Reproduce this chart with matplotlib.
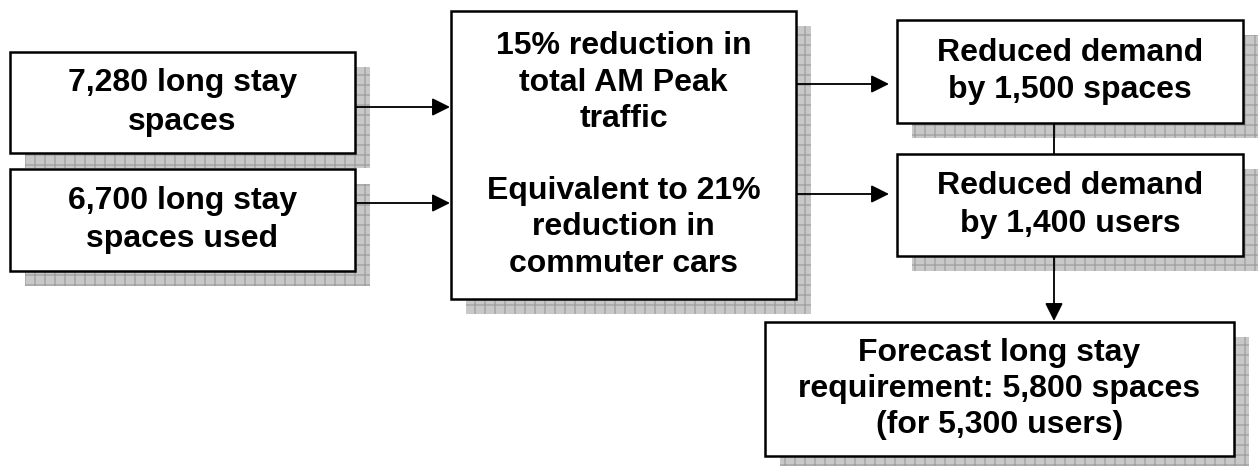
import matplotlib
matplotlib.use("Agg")
import matplotlib.pyplot as plt
from matplotlib.patches import Rectangle

plt.rcParams['font.family'] = ['Liberation Sans', 'DejaVu Sans']
plt.rcParams['hatch.linewidth'] = 0.8

# box texts
labels = [
    "7,280 long stay\nspaces",
    "6,700 long stay\nspaces used",
    "15% reduction in\ntotal AM Peak\ntraffic\n\nEquivalent to 21%\nreduction in\ncommuter cars",
    "Reduced demand\nby 1,500 spaces",
    "Reduced demand\nby 1,400 users",
    "Forecast long stay\nrequirement: 5,800 spaces\n(for 5,300 users)",
]

# box corners in pixels (left, top, right, bottom)
boxes = [
    (10, 52, 355, 153),
    (10, 169, 355, 271),
    (451, 11, 796, 299),
    (897, 20, 1243, 123),
    (897, 154, 1243, 256),
    (765, 322, 1234, 456),
]
spacing = [1.38, 1.38, 1.27, 1.32, 1.32, 1.26]

# connectors: (x0, y0, x1, y1, has_head)
links = [
    (355, 107, 450, 107, True),
    (355, 203, 450, 203, True),
    (796, 84, 889, 84, True),
    (796, 194, 889, 194, True),
    (1054, 123, 1054, 154, False),
    (1054, 256, 1054, 321, True),
]

shadow = 15

dpi = 120
fig = plt.figure(figsize=(1258 / dpi, 466 / dpi), dpi=dpi)
ax = fig.add_axes([0, 0, 1, 1])
ax.set_xlim(0, 1258)
ax.set_ylim(466, 0)
ax.axis('off')

for (l, t, r, b), txt, ls in zip(boxes, labels, spacing):
    # shadow with grid pattern
    ax.add_patch(Rectangle((l + shadow, t + shadow), r - l, b - t,
                           facecolor='#c8c8c8', edgecolor='#a0a0a0',
                           linewidth=0, hatch='++', zorder=1))
    ax.add_patch(Rectangle((l, t), r - l, b - t, facecolor='white',
                           edgecolor='black', linewidth=1.5, zorder=3))
    ax.text((l + r) / 2, (t + b) / 2, txt, ha='center', va='center',
            fontsize=19.2, fontweight='bold', linespacing=ls, zorder=4)

for x0, y0, x1, y1, head in links:
    style = '-|>,head_length=0.6,head_width=0.3' if head else '-'
    ax.annotate('', xy=(x1, y1), xytext=(x0, y0),
                arrowprops=dict(arrowstyle=style, color='black', lw=1.1,
                                mutation_scale=15, shrinkA=0, shrinkB=0),
                zorder=2)

fig.savefig('out.png', dpi=dpi, facecolor='white')
